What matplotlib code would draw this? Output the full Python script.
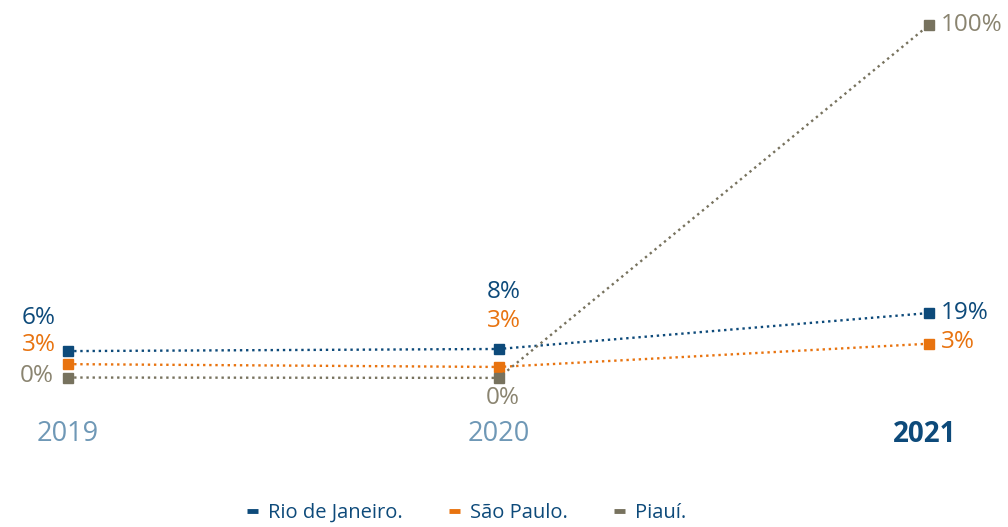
import matplotlib
matplotlib.use('Agg')
import matplotlib.pyplot as plt
from matplotlib.lines import Line2D
import matplotlib.transforms as mtransforms

plt.rcParams['font.family'] = ['Open Sans', 'DejaVu Sans']

years = [2019, 2020, 2021]
year_labels = ['2019', '2020', '2021']

# plotted positions and the printed labels
rio_vals = [7.5, 8.1, 18.3]
sp_vals = [3.8, 3.0, 9.6]
pi_vals = [0.0, -0.1, 100.0]

rio_labels = ['6%', '8%', '19%']
sp_labels = ['3%', '3%', '3%']
pi_labels = ['0%', '0%', '100%']

names = ['Rio de Janeiro.', 'São Paulo.', 'Piauí.']
line_colors = ['#0d4a7a', '#e8730f', '#77725e']
text_colors = ['#0d4a7a', '#e8730f', '#8a8470']

# label offsets in pixels (dx, dy) per series, per year
offsets = {
    0: [(-12, 33), (5, 57), (12, 0)],
    1: [(-12, 19), (5, 46), (12, 2)],
    2: [(-14, 2), (4, -20), (12, 0)],
}
aligns = ['right', 'center', 'left']

fig = plt.figure(figsize=(10.08, 5.27), dpi=100)
ax = fig.add_axes([0, 0, 1, 1])
# 2019 -> x=68 px, 2021 -> x=929 px
ax.set_xlim(2019 - 68 / 430.5, 2019 + (1008 - 68) / 430.5)
ax.set_ylim(-42.4, 107.1)
ax.axis('off')

series = [(rio_vals, rio_labels), (sp_vals, sp_labels), (pi_vals, pi_labels)]
for i, (vals, labs) in enumerate(series):
    ax.plot(years, vals, color=line_colors[i], linestyle=(0, (1, 1.6)), linewidth=1.7,
            marker='s', markersize=7.5, zorder=3)
    for j, (x, v) in enumerate(zip(years, vals)):
        dx, dy = offsets[i][j]
        ax.annotate(labs[j], (x, v), xytext=(dx, dy), textcoords='offset pixels',
                    ha=aligns[j], va='center', fontsize=17.5, color=text_colors[i])

trans = mtransforms.blended_transform_factory(ax.transData, fig.transFigure)
for j, (x, lab) in enumerate(zip(years, year_labels)):
    if j == 2:
        ax.text(x - 0.01, 1 - 434 / 527, lab, transform=trans, ha='center', va='center',
                fontsize=20, fontweight='bold', color='#0d4a7a')
    else:
        ax.text(x, 1 - 434 / 527, lab, transform=trans, ha='center', va='center',
                fontsize=19.5, color='#6f98b6')

handles = [Line2D([0], [0], color=c, linewidth=3.5, solid_capstyle='butt') for c in line_colors]
leg = fig.legend(handles, names, loc='center', bbox_to_anchor=(0.463, 1 - 513 / 527), ncol=3,
                 frameon=False, fontsize=14.5, handlelength=0.55, handletextpad=0.5,
                 columnspacing=2.3, labelcolor='#0d4a7a')

fig.savefig('out.png', dpi=100)
